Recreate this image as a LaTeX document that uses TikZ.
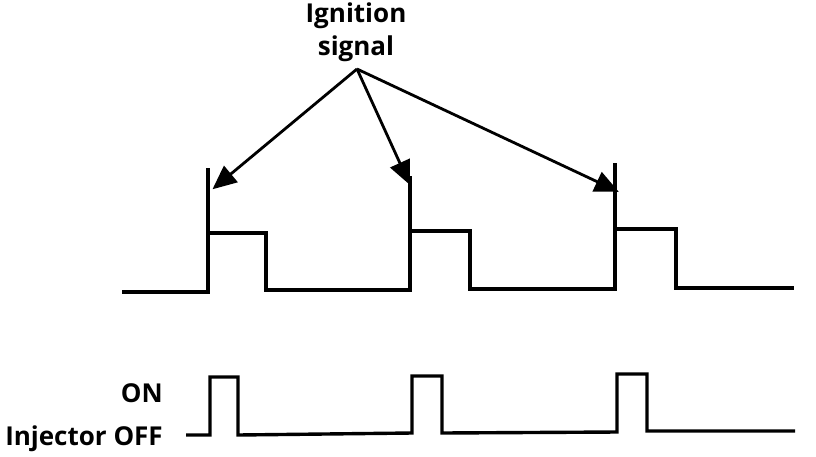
\documentclass[tikz,border=0pt]{standalone}
\usepackage{fontspec}
\setmainfont{Open Sans}
\usetikzlibrary{arrows.meta}
\begin{document}
\begin{tikzpicture}[x=1pt,y=-1pt,
  wave/.style={line width=3.4pt,line join=miter,line cap=butt},
  pointer/.style={line width=2.8pt,-{Triangle[length=24pt,width=21pt]},shorten >=-2pt},
  lbl/.style={font=\fontsize{26}{33}\selectfont\bfseries,inner sep=0pt}]
\useasboundingbox (0,0) rectangle (816,456);
% label
\node[lbl,anchor=base] (ign) at (356,22) {Ignition};
\node[lbl,anchor=base] (sig) at (356,55) {signal};
\coordinate (apex) at (357,69);
% top waveform
\draw[wave] (122,292) -- (208,292) -- (208,233) -- (266,233) -- (266,290)
  -- (410,290) -- (410,231) -- (470,231) -- (470,289) -- (615,289) -- (615,229)
  -- (676,229) -- (676,288) -- (794,288);
\coordinate (s1) at (208,168);
\coordinate (s2) at (410,176);
\coordinate (s3) at (615,163);
\draw[wave] (208,234) -- (s1);
\draw[wave] (410,232) -- (s2);
\draw[wave] (615,230) -- (s3);
% pointers
\coordinate (t1) at (214,188);
\coordinate (t2) at (409,183);
\coordinate (t3) at (617,191);
\draw[pointer] (apex) -- (t1);
\draw[pointer] (apex) -- (t2);
\draw[pointer] (apex) -- (t3);
% injector waveform
\draw[wave] (186,435) -- (210,435) -- (210,377) -- (238,377) -- (238,435)
  -- (412,433) -- (412,376) -- (442,376) -- (442,433) -- (617,432) -- (617,374)
  -- (647,374) -- (647,431) -- (795,431);
\node[lbl,anchor=base east] (on) at (163,402) {ON};
\node[lbl,anchor=base east] (off) at (163,445) {Injector OFF};
\end{tikzpicture}
\end{document}
